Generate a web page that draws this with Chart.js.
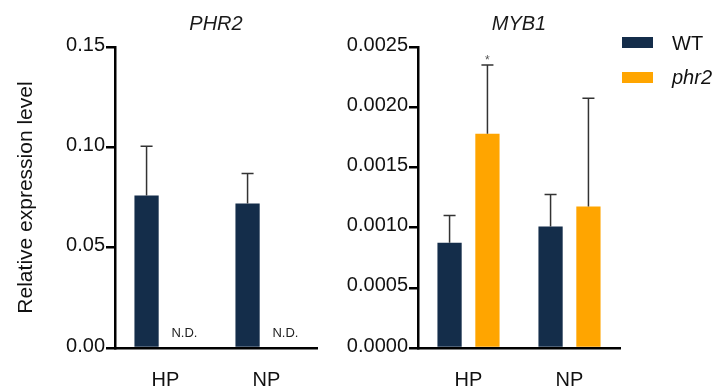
<!DOCTYPE html>
<html>
<head>
<meta charset="utf-8">
<script src="https://cdn.jsdelivr.net/npm/chart.js@4.4.1/dist/chart.umd.min.js"></script>
<style>
  body { margin: 0; background: #fff; }
  #wrap { position: relative; width: 719px; height: 392px; overflow: hidden; font-family: "Liberation Sans", Arial, sans-serif; }
  canvas { position: absolute; top: 0; }
  #phr2Chart { left: 0; }
  #myb1Chart { left: 320px; }
  .swatch { position: absolute; left: 622px; width: 31px; height: 11px; }
  .lab { position: absolute; left: 672px; font-size: 20px; line-height: 24px; color: #111; }
</style>
</head>
<body>
<div id="wrap">
  <canvas id="phr2Chart" width="330" height="392"></canvas>
  <canvas id="myb1Chart" width="310" height="392"></canvas>
  <div class="swatch" style="top:37px;background:#142d4a"></div>
  <div class="lab" style="top:31px">WT</div>
  <div class="swatch" style="top:72px;background:#ffa500"></div>
  <div class="lab" style="top:65px;font-style:italic">phr2</div>
</div>
<script>
const categories = ['HP', 'NP'];

// PHR2 panel (mutant not detected)
const phr2WT = [0.076, 0.072];
const phr2WTErr = [0.0245, 0.015];
const phr2Mut = [null, null];
const phr2Ticks = [0, 0.05, 0.10, 0.15];

// MYB1 panel
const myb1WT = [0.000875, 0.00101];
const myb1WTErr = [0.000225, 0.000265];
const myb1Mut = [0.00178, 0.001175];
const myb1MutErr = [0.00057, 0.0009];
const myb1MutSig = ['*', ''];
const myb1Ticks = [0, 0.0005, 0.0010, 0.0015, 0.0020, 0.0025];

const navy = '#142d4a';
const orange = '#ffa500';
const FONT = '"Liberation Sans", Arial, sans-serif';

// error bars (upper only), significance stars and N.D. labels
const barExtras = {
  id: 'barExtras',
  afterDatasetsDraw(chart) {
    const ctx = chart.ctx;
    const y = chart.scales.y;
    ctx.save();
    chart.data.datasets.forEach((ds, di) => {
      const meta = chart.getDatasetMeta(di);
      meta.data.forEach((bar, i) => {
        const v = ds.data[i];
        if (v == null) {
          if (ds.ndLabel) {
            ctx.fillStyle = '#222';
            ctx.font = '13px ' + FONT;
            ctx.textAlign = 'center';
            ctx.textBaseline = 'middle';
            ctx.fillText(ds.ndLabel, bar.x, y.getPixelForValue(0) - 15);
          }
          return;
        }
        const err = ds.errors ? ds.errors[i] : 0;
        if (!err) return;
        const top = y.getPixelForValue(v + err);
        ctx.strokeStyle = '#333';
        ctx.lineWidth = 1.5;
        ctx.beginPath();
        ctx.moveTo(bar.x, bar.y);
        ctx.lineTo(bar.x, top);
        ctx.moveTo(bar.x - 6, top);
        ctx.lineTo(bar.x + 6, top);
        ctx.stroke();
        if (ds.sig && ds.sig[i]) {
          ctx.fillStyle = '#555';
          ctx.font = '12px ' + FONT;
          ctx.textAlign = 'center';
          ctx.textBaseline = 'alphabetic';
          ctx.fillText(ds.sig[i], bar.x, top - 1);
        }
      });
    });
    ctx.restore();
  }
};

function makeOptions(title, ticks, decimals, yWidth, yTitle, padRight) {
  return {
    responsive: false,
    animation: false,
    layout: { padding: { left: 0, right: padRight, top: 0, bottom: 0 } },
    plugins: {
      legend: { display: false },
      tooltip: { enabled: false },
      title: {
        display: true,
        text: title,
        fullSize: false,
        color: '#1a1a1a',
        font: { family: FONT, size: 20, style: 'italic', weight: 'normal', lineHeight: 1.2 },
        padding: { top: 12.5, bottom: 10.5 }
      }
    },
    scales: {
      x: {
        grid: { display: false, drawTicks: false },
        border: { display: true, color: '#000', width: 2.5 },
        ticks: { color: '#111', padding: 20, font: { family: FONT, size: 20 } },
        afterFit(scale) { scale.height = 44; }
      },
      y: {
        min: 0,
        max: ticks[ticks.length - 1],
        afterBuildTicks(scale) { scale.ticks = ticks.map(v => ({ value: v })); },
        grid: { drawOnChartArea: false, drawTicks: true, tickLength: 9, color: '#000', lineWidth: 2.5 },
        border: { display: true, color: '#000', width: 2.5 },
        ticks: {
          color: '#111',
          padding: 1,
          labelOffset: -2,
          font: { family: FONT, size: 20 },
          callback: v => Number(v).toFixed(decimals)
        },
        title: {
          display: !!yTitle,
          text: yTitle,
          color: '#111',
          font: { family: FONT, size: 21 },
          padding: { top: 14, bottom: 0 }
        },
        afterFit(scale) { scale.width = yWidth; }
      }
    }
  };
}

const barStyle = { categoryPercentage: 0.75, barPercentage: 0.64, borderWidth: 0 };

new Chart(document.getElementById('phr2Chart'), {
  type: 'bar',
  data: {
    labels: categories,
    datasets: [
      Object.assign({ label: 'WT', data: phr2WT, errors: phr2WTErr, backgroundColor: navy }, barStyle),
      Object.assign({ label: 'phr2', data: phr2Mut, ndLabel: 'N.D.', backgroundColor: orange }, barStyle)
    ]
  },
  options: makeOptions('PHR2', phr2Ticks, 2, 115, 'Relative expression level', 13),
  plugins: [barExtras]
});

new Chart(document.getElementById('myb1Chart'), {
  type: 'bar',
  data: {
    labels: categories,
    datasets: [
      Object.assign({ label: 'WT', data: myb1WT, errors: myb1WTErr, backgroundColor: navy }, barStyle),
      Object.assign({ label: 'phr2', data: myb1Mut, errors: myb1MutErr, sig: myb1MutSig, backgroundColor: orange }, barStyle)
    ]
  },
  options: makeOptions('MYB1', myb1Ticks, 4, 98, '', 10),
  plugins: [barExtras]
});
</script>
</body>
</html>
